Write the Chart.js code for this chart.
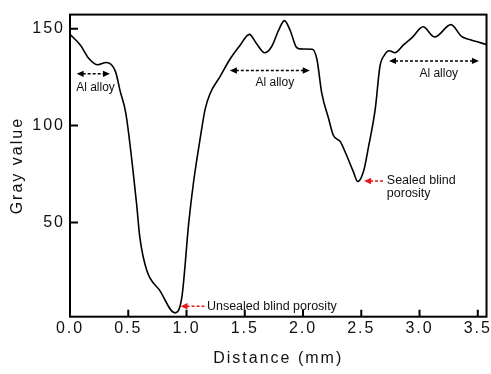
<!DOCTYPE html>
<html>
<head>
<meta charset="utf-8">
<script src="https://cdn.jsdelivr.net/npm/chart.js@4"></script>
<style>
  html, body { margin: 0; padding: 0; background: #fff; }
  #wrap { width: 491px; height: 374px; }
</style>
</head>
<body>
<div id="wrap"><canvas id="profile"></canvas></div>
<script>
// line profile
const distance = [0.00, 0.09, 0.16, 0.24, 0.31, 0.39, 0.43, 0.48, 0.57, 0.60, 0.66, 0.77, 0.90, 0.96,
    1.02, 1.06, 1.12, 1.16, 1.20, 1.29, 1.37, 1.46, 1.54, 1.60, 1.67, 1.73, 1.79, 1.84, 1.89, 1.94,
    1.97, 2.08, 2.12, 2.16, 2.22, 2.26, 2.32, 2.36, 2.43, 2.47, 2.52, 2.56, 2.62, 2.66, 2.70, 2.74,
    2.79, 2.86, 2.94, 3.03, 3.13, 3.27, 3.36, 3.43, 3.575];
const grayValue = [147.1, 141.5, 134.8, 131.4, 132.6, 128.0, 117.9, 106.0, 60.4, 42.0, 25.0, 14.9, 3.3, 11.4,
    50.3, 70.6, 94.4, 108.5, 116.2, 125.5, 134.0, 141.5, 147.1, 142.4, 137.6, 140.7, 149.1, 154.2, 149.1, 140.7,
    139.6, 139.4, 134.0, 117.0, 103.5, 95.0, 91.7, 86.6, 76.5, 71.1, 76.5, 88.3, 108.6, 130.5, 136.5, 138.6,
    137.6, 141.5, 145.7, 151.0, 145.7, 152.1, 146.1, 144.4, 141.9];

const xTickValues = [0, 0.5, 1.0, 1.5, 2.0, 2.5, 3.0, 3.5];
const yTickValues = [50, 100, 150];

// "Al alloy" double arrows (data units)
const alloyFrom = [0.057, 1.372, 2.738];
const alloyTo = [0.343, 2.058, 3.510];
const alloyArrowY = [126.7, 128.4, 133.4];
const alloyLabelX = [0.219, 1.758, 3.165];
const alloyLabelY = [119.7, 122.1, 126.8];

// porosity callouts
const poreText = [['Unsealed blind porosity'], ['Sealed blind', 'porosity']];
const poreHeadX = [0.949, 2.524];
const poreTailX = [1.158, 2.702];
const poreY = [6.7, 71.4];

const RED = 'rgb(232,20,28)';

function head(ctx, x, y, dir, color) {
    ctx.fillStyle = color;
    ctx.beginPath();
    ctx.moveTo(x, y);
    ctx.lineTo(x - dir * 7, y - 3.2);
    ctx.lineTo(x - dir * 7, y + 3.2);
    ctx.closePath();
    ctx.fill();
}

const figurePlugin = {
    id: 'figure',
    beforeDraw(chart) {
        chart.ctx.letterSpacing = '2px';
    },
    afterDraw(chart) {
        const ctx = chart.ctx;
        const xs = chart.scales.x;
        const ys = chart.scales.y;
        const area = chart.chartArea;
        ctx.save();
        ctx.letterSpacing = '0px';

        // frame + inward ticks
        ctx.strokeStyle = '#000';
        ctx.lineWidth = 2;
        ctx.strokeRect(area.left, area.top, area.right - area.left, area.bottom - area.top);
        ctx.beginPath();
        xTickValues.forEach(v => {
            const px = xs.getPixelForValue(v);
            ctx.moveTo(px, area.bottom);
            ctx.lineTo(px, area.bottom - 7);
        });
        yTickValues.forEach(v => {
            const py = ys.getPixelForValue(v);
            ctx.moveTo(area.left, py);
            ctx.lineTo(area.left + 8, py);
        });
        ctx.stroke();

        // Al alloy arrows
        ctx.lineWidth = 1.5;
        ctx.font = '12px "Liberation Sans", Arial, sans-serif';
        ctx.textAlign = 'center';
        ctx.textBaseline = 'middle';
        alloyFrom.forEach((from, i) => {
            const x1 = xs.getPixelForValue(from);
            const x2 = xs.getPixelForValue(alloyTo[i]);
            const y = ys.getPixelForValue(alloyArrowY[i]);
            ctx.setLineDash([3, 2]);
            ctx.strokeStyle = '#000';
            ctx.beginPath();
            ctx.moveTo(x1 + 6, y);
            ctx.lineTo(x2 - 6, y);
            ctx.stroke();
            ctx.setLineDash([]);
            head(ctx, x1, y, -1, '#000');
            head(ctx, x2, y, 1, '#000');
            ctx.fillStyle = '#111';
            ctx.fillText('Al alloy', xs.getPixelForValue(alloyLabelX[i]), ys.getPixelForValue(alloyLabelY[i]));
        });

        // porosity callouts
        ctx.textAlign = 'left';
        ctx.font = '12.5px "Liberation Sans", Arial, sans-serif';
        poreText.forEach((lines, i) => {
            const hx = xs.getPixelForValue(poreHeadX[i]);
            const tx = xs.getPixelForValue(poreTailX[i]);
            const y = ys.getPixelForValue(poreY[i]);
            ctx.setLineDash([3, 2]);
            ctx.strokeStyle = RED;
            ctx.beginPath();
            ctx.moveTo(hx + 6, y);
            ctx.lineTo(tx, y);
            ctx.stroke();
            ctx.setLineDash([]);
            head(ctx, hx, y, -1, RED);
            ctx.fillStyle = '#111';
            lines.forEach((t, j) => ctx.fillText(t, tx + 2, y + j * 12.5));
        });
        ctx.restore();
    }
};

const ctx = document.getElementById('profile');

const data = {
    datasets: [{
        data: distance.map((d, i) => ({ x: d, y: grayValue[i] })),
        borderColor: '#000',
        borderWidth: 1.6,
        pointRadius: 0,
        cubicInterpolationMode: 'monotone',
        fill: false
    }]
};

const options = {
    responsive: true,
    maintainAspectRatio: false,
    animation: false,
    layout: {
        padding: { top: 9, right: 4.3, left: 0, bottom: 0 }
    },
    plugins: {
        legend: { display: false },
        tooltip: { enabled: false }
    },
    scales: {
        x: {
            type: 'linear',
            min: 0,
            max: 3.575,
            afterBuildTicks: (scale) => { scale.ticks = xTickValues.map(v => ({ value: v })); },
            afterFit: (scale) => { scale.height = 57.3; },
            grid: { display: false, drawTicks: false },
            border: { display: false },
            ticks: {
                color: '#111',
                padding: 2,
                maxRotation: 0,
                font: { family: '"Liberation Sans", Arial, sans-serif', size: 16 },
                callback: (v) => Number(v).toFixed(1)
            },
            title: {
                display: true,
                text: 'Distance (mm)',
                color: '#111',
                padding: { top: 0, bottom: 6 },
                font: { family: '"Liberation Sans", Arial, sans-serif', size: 16 }
            }
        },
        y: {
            min: 1.3,
            max: 157.3,
            afterBuildTicks: (scale) => { scale.ticks = yTickValues.map(v => ({ value: v })); },
            afterFit: (scale) => { scale.width = 70; },
            grid: { display: false, drawTicks: false },
            border: { display: false },
            ticks: {
                color: '#111',
                padding: 5,
                font: { family: '"Liberation Sans", Arial, sans-serif', size: 16 }
            },
            title: {
                display: true,
                text: 'Gray value',
                color: '#111',
                padding: { top: 8, bottom: 0 },
                font: { family: '"Liberation Sans", Arial, sans-serif', size: 16 }
            }
        }
    }
};

const chart = new Chart(ctx, {
    type: 'line',
    data: data,
    options: options,
    plugins: [figurePlugin]
});
</script>
</body>
</html>
